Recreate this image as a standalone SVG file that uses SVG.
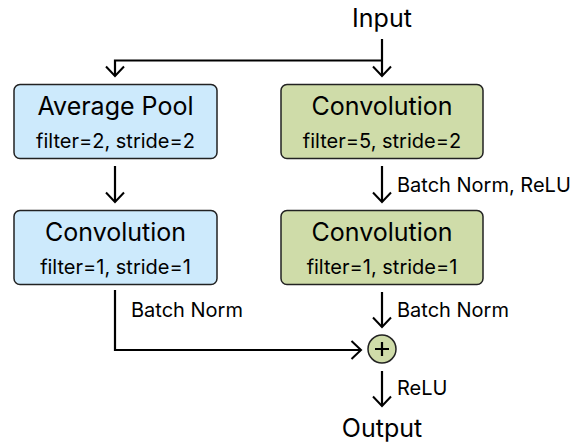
<svg xmlns="http://www.w3.org/2000/svg" width="584" height="444" viewBox="0 0 584 444">
<defs>
<marker id="arr" markerWidth="14" markerHeight="22" refX="11" refY="11" orient="auto" markerUnits="userSpaceOnUse">
<path d="M1.5,2 L11,11 L1.5,20" fill="none" stroke="#000" stroke-width="2"/>
</marker>
<style>
.t{font-family:Inter,"Liberation Sans",sans-serif;fill:#000}
.big{font-size:25px}
.small{font-size:20px}
.lab{font-size:20px}
.blue{fill:#cdeafc;stroke:#222;stroke-width:1.5}
.green{fill:#cfdca9;stroke:#222;stroke-width:1.5}
.c{fill:none;stroke:#000;stroke-width:2.2}
</style>
</defs>
<text class="t big" x="382" y="27" text-anchor="middle">Input</text>
<g id="connectors">
<path class="c" d="M382,39 V76" marker-end="url(#arr)"/>
<path class="c" d="M382,60.5 H115 V76" marker-end="url(#arr)"/>
<path class="c" d="M115,166 V202" marker-end="url(#arr)"/>
<path class="c" d="M382,166 V202" marker-end="url(#arr)"/>
<path class="c" d="M115,290 V350 H361" marker-end="url(#arr)"/>
<path class="c" d="M382,292 V327" marker-end="url(#arr)"/>
<path class="c" d="M382,371 V406" marker-end="url(#arr)"/>
</g>
<g id="avgpool">
<rect class="blue" x="14" y="84.5" width="203" height="74" rx="6"/>
<text class="t big" x="115.5" y="115" text-anchor="middle">Average Pool</text>
<text class="t small" x="115.5" y="148" text-anchor="middle">filter=2, stride=2</text>
</g>
<g id="conv1">
<rect class="blue" x="14" y="210.5" width="203" height="74" rx="6"/>
<text class="t big" x="115.5" y="241" text-anchor="middle">Convolution</text>
<text class="t small" x="115.5" y="274" text-anchor="middle">filter=1, stride=1</text>
</g>
<g id="conv5">
<rect class="green" x="281" y="84.5" width="202" height="74" rx="6"/>
<text class="t big" x="382" y="115" text-anchor="middle">Convolution</text>
<text class="t small" x="382" y="148" text-anchor="middle">filter=5, stride=2</text>
</g>
<g id="conv2">
<rect class="green" x="281" y="210.5" width="202" height="74" rx="6"/>
<text class="t big" x="382" y="241" text-anchor="middle">Convolution</text>
<text class="t small" x="382" y="274" text-anchor="middle">filter=1, stride=1</text>
</g>
<g id="add">
<circle cx="382" cy="349" r="14" fill="#cfdca9" stroke="#222" stroke-width="1.5"/>
<path d="M382,342 V356 M375,349 H389" stroke="#000" stroke-width="2.2"/>
</g>
<text class="t lab" x="397" y="192">Batch Norm, ReLU</text>
<text class="t lab" x="131" y="317">Batch Norm</text>
<text class="t lab" x="397" y="317">Batch Norm</text>
<text class="t lab" x="397" y="395">ReLU</text>
<text class="t big" x="382" y="437" text-anchor="middle">Output</text>
</svg>
